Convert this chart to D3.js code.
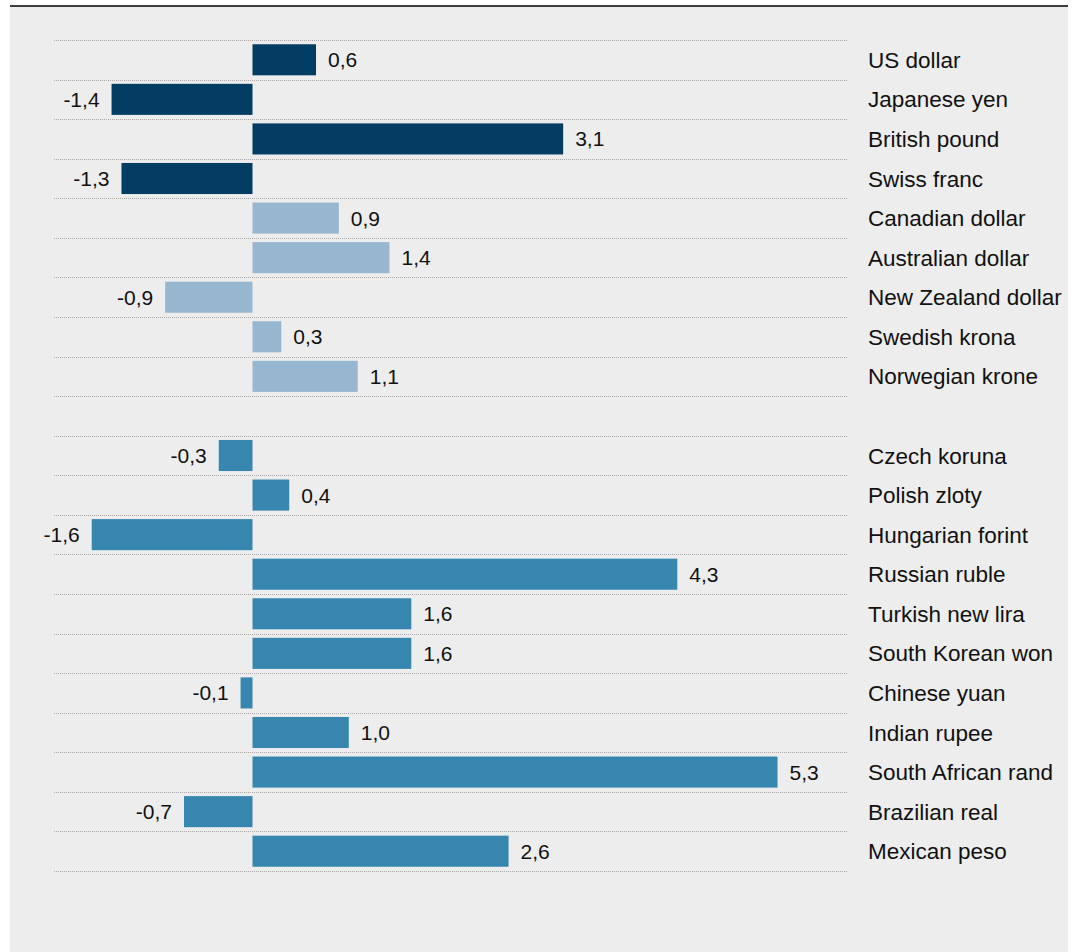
<!DOCTYPE html>
<html>
<head>
<meta charset="utf-8">
<script src="https://cdn.jsdelivr.net/npm/d3@7"></script>
<style>
  html, body { margin: 0; padding: 0; background: #ffffff; }
  svg { display: block; }
  text { font-family: "Liberation Sans", Arial, Helvetica, sans-serif; fill: #111; }
</style>
</head>
<body>
<script>
// ---- data ----
const majorCurrencies = ["US dollar", "Japanese yen", "British pound", "Swiss franc"];
const majorValues = [0.64, -1.42, 3.13, -1.32];

const otherAdvancedCurrencies = ["Canadian dollar", "Australian dollar", "New Zealand dollar", "Swedish krona", "Norwegian krone"];
const otherAdvancedValues = [0.87, 1.38, -0.88, 0.29, 1.06];

const emergingCurrencies = ["Czech koruna", "Polish zloty", "Hungarian forint", "Russian ruble", "Turkish new lira",
  "South Korean won", "Chinese yuan", "Indian rupee", "South African rand", "Brazilian real", "Mexican peso"];
const emergingValues = [-0.34, 0.37, -1.62, 4.28, 1.6, 1.6, -0.12, 0.97, 5.29, -0.69, 2.58];

const groupColors = { major: "#023e63", other: "#97b6d0", emerging: "#3786b0" };

// ---- rows (with a spacer row between advanced and emerging) ----
const rows = [];
majorCurrencies.forEach((c, i) => rows.push({ key: c, name: c, value: majorValues[i], group: "major" }));
otherAdvancedCurrencies.forEach((c, i) => rows.push({ key: c, name: c, value: otherAdvancedValues[i], group: "other" }));
rows.push({ key: "__spacer__", name: "", value: null, group: null });
emergingCurrencies.forEach((c, i) => rows.push({ key: c, name: c, value: emergingValues[i], group: "emerging" }));

const W = 1075, H = 952;
const svg = d3.select("body").append("svg").attr("width", W).attr("height", H);

// background panel and top rule
svg.append("rect").attr("x", 10).attr("y", 6).attr("width", 1058).attr("height", H - 6).attr("fill", "#ededed");
svg.append("line").attr("x1", 10).attr("x2", 1068).attr("y1", 6).attr("y2", 6)
  .attr("stroke", "#000").attr("stroke-width", 1.6);

const x = d3.scaleLinear().domain([-2, 6]).range([54, 848]);
const pad = 0.215;
const y = d3.scaleBand().domain(rows.map(r => r.key)).range([40, 871]).paddingInner(pad).paddingOuter(pad / 2);
const step = y.step();

// dotted separators
const sepIdx = d3.range(rows.length + 1);
svg.append("g").selectAll("line").data(sepIdx).join("line")
  .attr("x1", x.range()[0]).attr("x2", x.range()[1])
  .attr("y1", i => Math.round(40 + i * step) + 0.5)
  .attr("y2", i => Math.round(40 + i * step) + 0.5)
  .attr("stroke", "#a8a8a8").attr("stroke-width", 1.2).attr("stroke-dasharray", "1,1");

const data = rows.filter(r => r.value !== null);
const fmt = v => d3.format(".1f")(v).replace(".", ",").replace("−", "-");

// bars
svg.append("g").selectAll("rect").data(data).join("rect")
  .attr("x", d => x(Math.min(0, d.value)))
  .attr("width", d => Math.abs(x(d.value) - x(0)))
  .attr("y", d => y(d.key))
  .attr("height", y.bandwidth())
  .attr("fill", d => groupColors[d.group]);

// value labels
svg.append("g").selectAll("text").data(data).join("text")
  .attr("x", d => d.value >= 0 ? x(d.value) + 12 : x(d.value) - 12)
  .attr("y", d => y(d.key) + y.bandwidth() / 2)
  .attr("dy", "0.36em")
  .attr("text-anchor", d => d.value >= 0 ? "start" : "end")
  .style("font-size", "21px")
  .text(d => fmt(d.value));

// category labels
svg.append("g").selectAll("text").data(data).join("text")
  .attr("x", 868)
  .attr("y", d => y(d.key) + y.bandwidth() / 2)
  .attr("dy", "0.36em")
  .style("font-size", "22.5px")
  .text(d => d.name);
</script>
</body>
</html>
